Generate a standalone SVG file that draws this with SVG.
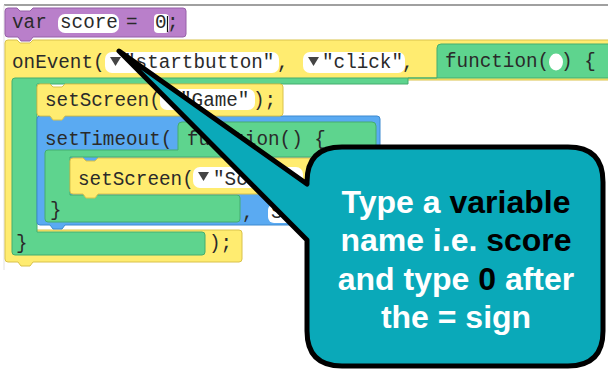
<svg xmlns="http://www.w3.org/2000/svg" width="608" height="371" viewBox="0 0 608 371">
<style>
.code{font-family:"Liberation Mono","Courier New",monospace;font-size:19.3px;fill:#2a2a2a}
.y{fill:#FFEC70;stroke:#D9C24A;stroke-width:1}
.g{fill:#5ED48E;stroke:#44AD6E;stroke-width:1}
.b{fill:#5AAAF2;stroke:#3D8AD0;stroke-width:1}
.p{fill:#B97FCA;stroke:#9660A8;stroke-width:1}
.fld{fill:#fff}
.tri{fill:#444}
.call{font-family:"Liberation Sans",Arial,sans-serif;font-weight:bold;font-size:32px;fill:#fff}
.k{fill:#000}
</style>
<rect width="608" height="371" fill="#fff"/>
<g id="workspace">
<line x1="4" y1="5" x2="608" y2="5" stroke="#a0a0a0" stroke-width="2"/>
<line x1="4" y1="5" x2="4" y2="270" stroke="#e2e2e2" stroke-width="1"/>
</g>
<g id="onEvent">
<path class="y" d="M5,43 Q5,40 8,40 L17,40 L20,43 L30,43 L33,40 L612,40 L612,80 L14,80 L14,230 L239,230 Q242,230 242,233 L242,259 Q242,262 239,262 L33,262 L30,266 L21,266 L18,262 L8,262 Q5,262 5,259 Z"/>
<text class="code" x="12" y="68">onEvent(</text>
<rect class="fld" x="105" y="52" width="174" height="21" rx="7"/>
<polygon class="tri" points="110,57 121,57 115.5,66"/>
<text class="code" x="124" y="68">"startbutton"</text>
<text class="code" x="277" y="68">,</text>
<rect class="fld" x="303" y="52" width="102" height="21" rx="7"/>
<polygon class="tri" points="308,57 319,57 313.5,66"/>
<text class="code" x="322" y="68">"click"</text>
<text class="code" x="402" y="68">,</text>
<text class="code" x="209" y="249">);</text>
</g>
<g id="var">
<path class="p" d="M5,11 Q5,8 8,8 L17,8 L20,11 L30,11 L33,8 L183,8 Q186,8 186,11 L186,34 Q186,37 183,37 L33,37 L30,41 L21,41 L18,37 L8,37 Q5,37 5,34 Z"/>
<text class="code" x="12" y="28">var</text>
<rect class="fld" x="58" y="14" width="61" height="19" rx="7"/>
<text class="code" x="60" y="28">score</text>
<text class="code" x="126" y="28">=</text>
<rect class="fld" x="154" y="14" width="15" height="19" rx="4"/>
<text class="code" x="155" y="28">0</text>
<line x1="167.5" y1="16" x2="167.5" y2="32" stroke="#111" stroke-width="1.2"/>
<text class="code" x="167" y="28">;</text>
</g>
<g id="function1">
<path class="g" d="M437,48 Q437,44 441,44 L612,44 L612,78 L408,78 L408,84 L37,84 L37,232 L202,232 Q205,232 205,235 L205,252 Q205,255 202,255 L15,255 Q12,255 12,252 L12,81 Q12,78 15,78 L437,78 Z"/>
<text class="code" x="445" y="67">function(</text>
<ellipse class="fld" cx="556" cy="62" rx="7" ry="8.5"/>
<text class="code" x="561" y="67">) {</text>
<text class="code" x="16" y="249">}</text>
</g>
<g id="setTimeout">
<path class="b" d="M37,119 Q37,116 40,116 L50,116 L53,119 L62,119 L65,116 L377,116 Q380,116 380,119 L380,222 Q380,225 377,225 L65,225 L62,229 L53,229 L50,225 L40,225 Q37,225 37,222 Z"/>
<text class="code" x="45" y="145">setTimeout(</text>
<text class="code" x="242" y="218">,</text>
<rect class="fld" x="268" y="204" width="44" height="19" rx="6"/>
<text class="code" x="271" y="218">S</text>
</g>
<g id="setScreenGame">
<path class="y" d="M37,87 Q37,84 40,84 L50,84 L53,87 L62,87 L65,84 L280,84 Q283,84 283,87 L283,113 Q283,116 280,116 L65,116 L62,120 L53,120 L50,116 L40,116 Q37,116 37,113 Z"/>
<text class="code" x="45" y="106">setScreen(</text>
<rect class="fld" x="160" y="89" width="95" height="21" rx="7"/>
<polygon class="tri" points="165,94 176,94 170.5,103"/>
<text class="code" x="180" y="106">"Game"</text>
<text class="code" x="253" y="106">);</text>
</g>
<g id="function2">
<path class="g" d="M178,126 Q178,122 182,122 L372,122 Q376,122 376,126 L376,157 L70,157 L70,195 L237,195 Q240,195 240,198 L240,219 Q240,222 237,222 L48,222 Q45,222 45,219 L45,153 Q45,150 48,150 L178,150 Z"/>
<text class="code" x="187" y="145">function() {</text>
<text class="code" x="50" y="216">}</text>
</g>
<g id="setScreenScore">
<path class="y" d="M70,161 Q70,158 73,158 L83,158 L86,161 L95,161 L98,158 L337,158 Q340,158 340,161 L340,191 Q340,194 337,194 L98,194 L95,198 L86,198 L83,194 L73,194 Q70,194 70,191 Z"/>
<text class="code" x="78" y="185">setScreen(</text>
<rect class="fld" x="193" y="167" width="110" height="21" rx="7"/>
<polygon class="tri" points="198,172 209,172 203.5,181"/>
<text class="code" x="213" y="185">"Sc</text>
</g>
<g id="callout">
<path d="M119,51 L307,184 L307,182 Q307,147 342,147 L568,147 Q603,147 603,182 L603,331 Q603,366 568,366 L342,366 Q307,366 307,331 L307,240 Z" fill="#0AA9B9" stroke="#000" stroke-width="5" stroke-linejoin="round"/>
<text class="call" text-anchor="middle" x="456" y="213">Type a <tspan class="k">variable</tspan></text>
<text class="call" text-anchor="middle" x="456" y="251">name i.e. <tspan class="k">score</tspan></text>
<text class="call" text-anchor="middle" x="456" y="290">and type <tspan class="k">0</tspan> after</text>
<text class="call" text-anchor="middle" x="456" y="328">the = sign</text>
</g>
</svg>
